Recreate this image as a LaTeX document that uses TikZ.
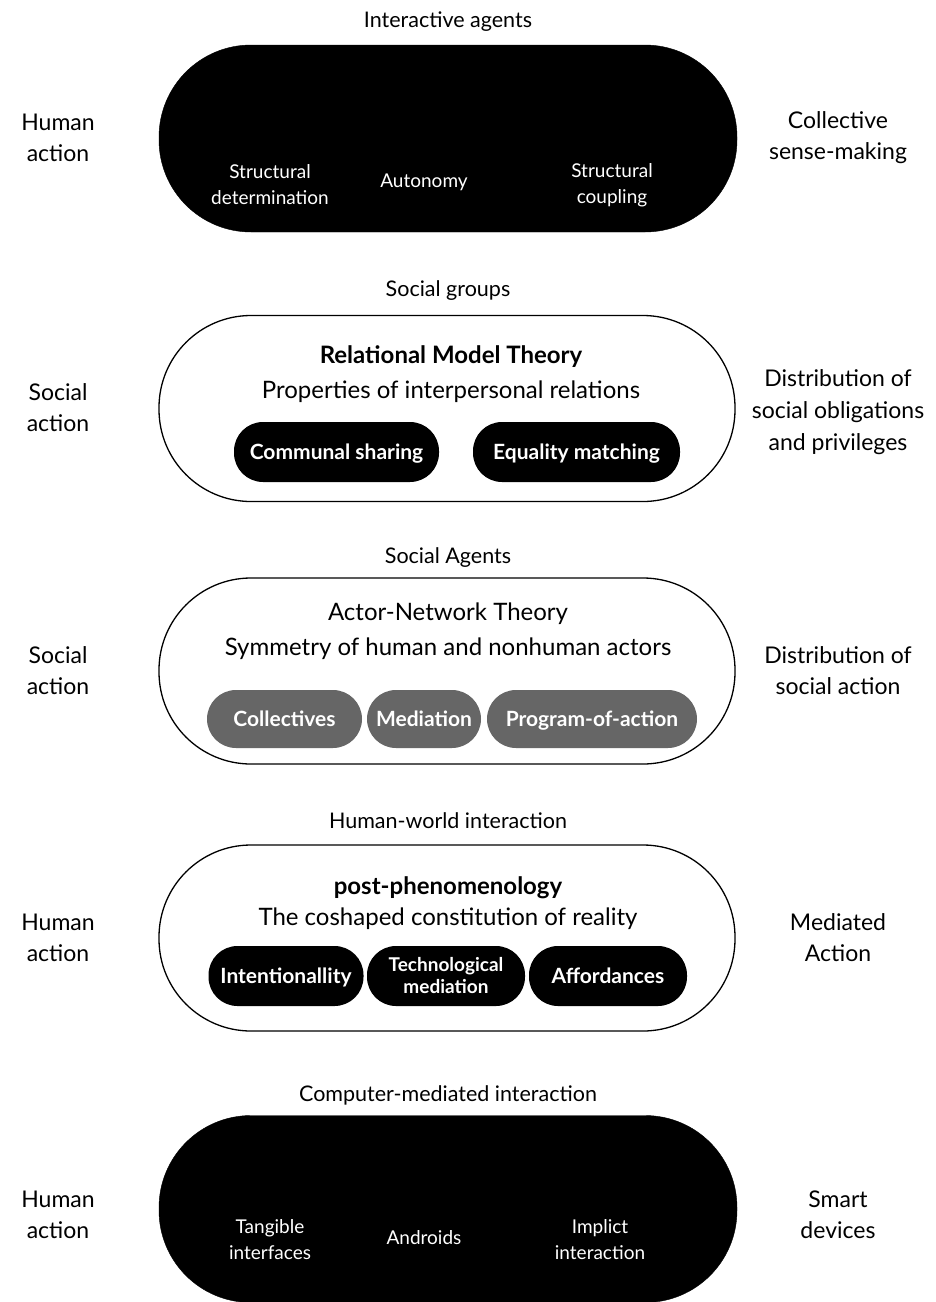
\documentclass[tikz,border=0pt]{standalone}
\usepackage{fontspec}
\setmainfont{Lato}
\begin{document}
\begin{tikzpicture}[x=1pt,y=-1pt,
  heading/.style={font=\fontsize{21.5}{26}\selectfont},
  side/.style={font=\fontsize{23}{31}\selectfont, align=center},
  darkband/.style={draw=black, fill=black, rounded corners=92pt, minimum width=578pt, minimum height=187pt, inner sep=0pt},
  lightband/.style={draw=black, line width=1.3pt, fill=white, rounded corners=92pt, minimum width=576pt, minimum height=186pt, inner sep=0pt},
  intext/.style={text=white, font=\fontsize{19}{26}\selectfont, align=center},
  theory/.style={font=\bfseries\fontsize{24}{28}\selectfont},
  subtheory/.style={font=\fontsize{24}{28}\selectfont},
  pillbase/.style={fill=black, text=white, rounded corners=29pt, inner sep=0pt, minimum height=60pt,
    font=\bfseries\fontsize{21}{23}\selectfont, align=center},
  pill/.style={pillbase, text height=17pt, text depth=2pt},
  greypill/.style={pill, fill=black!60, minimum height=58pt},
]
\useasboundingbox (0,0) rectangle (936,1302);

% level 1: interactive agents
\node[heading] (h1) at (448,22) {Interactive agents};
\node[darkband] (b1) at (448,138.5) {};
\node[side] (l1) at (58,138) {Human\\action};
\node[side] (r1) at (838,138) {Collective\\sense-making};
\node[intext] (t1a) at (270,185) {Structural\\determination};
\node[intext] (t1b) at (424,182) {Autonomy};
\node[intext] (t1c) at (612,185) {Structural\\coupling};

% level 2: social groups
\node[heading] (h2) at (448,291) {Social groups};
\node[lightband] (b2) at (447,408.5) {};
\node[side] (l2) at (58,408) {Social\\action};
\node[side, font=\fontsize{23}{32}\selectfont] (r2) at (838,412) {Distribution of\\social obligations\\and privileges};
\node[theory] (th2) at (451,357) {Relational Model Theory};
\node[subtheory] (st2) at (451,392) {Properties of interpersonal relations};
\node[pill, minimum width=205pt] (p2a) at (336.5,452) {Communal sharing};
\node[pill, minimum width=207pt] (p2b) at (576.5,452) {Equality matching};

% level 3: social agents
\node[heading] (h3) at (448,558) {Social Agents};
\node[lightband] (b3) at (447,671) {};
\node[side] (l3) at (58,671) {Social\\action};
\node[side] (r3) at (838,671) {Distribution of\\social action};
\node[subtheory] (th3) at (448,614) {Actor-Network Theory};
\node[subtheory] (st3) at (448,649) {Symmetry of human and nonhuman actors};
\node[greypill, minimum width=155pt] (p3a) at (284.5,719) {Collectives};
\node[greypill, minimum width=114pt] (p3b) at (424,719) {Mediation};
\node[greypill, minimum width=210pt] (p3c) at (592,719) {Program-of-action};

% level 4: human-world interaction
\node[heading] (h4) at (448,821) {Human-world interaction};
\node[lightband] (b4) at (447,938) {};
\node[side] (l4) at (58,938) {Human\\action};
\node[side] (r4) at (838,938) {Mediated\\Action};
\node[theory] (th4) at (448,888) {post-phenomenology};
\node[subtheory] (st4) at (448,919) {The coshaped constitution of reality};
\node[pill, minimum width=155pt] (p4a) at (286,976) {Intentionallity};
\node[pillbase, minimum width=158pt, font=\bfseries\fontsize{19}{22}\selectfont] (p4b) at (446,976) {Technological\\mediation};
\node[pill, minimum width=158pt] (p4c) at (608,976) {Affordances};

% level 5: computer-mediated interaction
\node[heading] (h5) at (448,1095) {Computer-mediated interaction};
\node[darkband] (b5) at (448,1209) {};
\node[side] (l5) at (58,1215) {Human\\action};
\node[side] (r5) at (838,1215) {Smart\\devices};
\node[intext] (t5a) at (270,1240) {Tangible\\interfaces};
\node[intext] (t5b) at (424,1238) {Androids};
\node[intext] (t5c) at (600,1240) {Implict\\interaction};
\end{tikzpicture}
\end{document}
